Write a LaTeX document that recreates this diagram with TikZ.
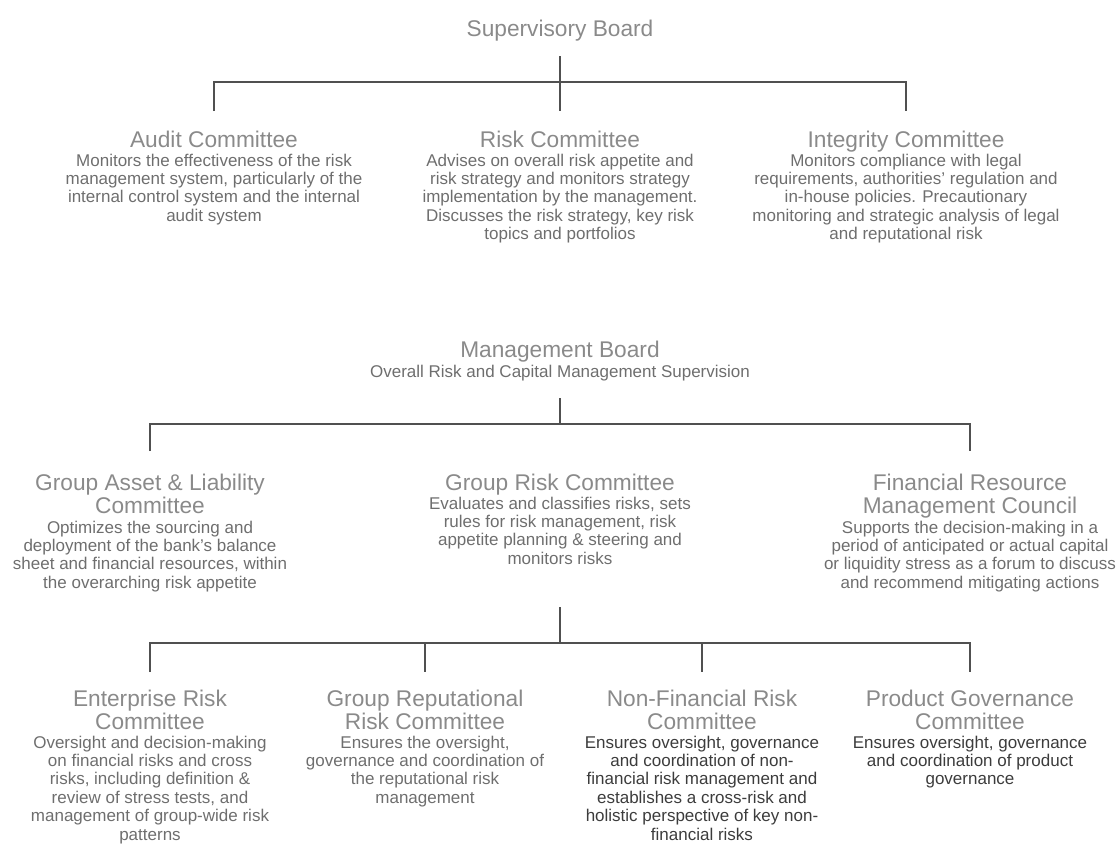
\documentclass[tikz,border=0pt]{standalone}
\usepackage{fontspec}
\setmainfont{Liberation Sans}
\definecolor{titlegray}{HTML}{8A8A8A}
\definecolor{bodygray}{HTML}{6E6E6E}
\definecolor{bodydark}{HTML}{3C3C3C}
\definecolor{linegray}{HTML}{505050}
% note: for multi-line nodes the base anchor sits on the LAST line's baseline
\tikzset{
  ttl/.style={anchor=base, inner sep=0pt, align=center, text=titlegray,
    font=\fontsize{22.7}{23.5}\selectfont},
  bdy/.style={anchor=base, inner sep=0pt, align=center, text=bodygray,
    font=\fontsize{17}{18.4}\selectfont},
  bdydark/.style={bdy, text=bodydark},
  conn/.style={draw=linegray, line width=1.3pt}
}
\begin{document}
\begin{tikzpicture}[x=1pt,y=-1pt]
\useasboundingbox (0,0) rectangle (1120,844);
% ---------- Supervisory tier ----------
\node[ttl] (sb) at (560,36) {Supervisory Board};
\node[ttl] (ac) at (214,147) {Audit Committee};
\node[bdy] (acb) at (214,221.2) {Monitors the effectiveness of the risk\\management system, particularly of the\\internal control system and the internal\\audit system};
\node[ttl] (rc) at (560,147) {Risk Committee};
\node[bdy] (rcb) at (560,239.6) {Advises on overall risk appetite and\\risk strategy and monitors strategy\\implementation by the management.\\Discusses the risk strategy, key risk\\topics and portfolios};
\node[ttl] (ic) at (906,147) {Integrity Committee};
\node[bdy] (icb) at (906,239.6) {Monitors compliance with legal\\requirements, authorities’ regulation and\\in-house policies. Precautionary\\monitoring and strategic analysis of legal\\and reputational risk};
\coordinate (t1top) at (0,56);
\coordinate (t1bar) at (560,82);
\coordinate (t1end) at (0,111);
\draw[conn] (sb |- t1top) -- (rc |- t1end);
\draw[conn] (ac |- t1end) |- (t1bar) -| (ic |- t1end);
% ---------- Management tier ----------
\node[ttl] (mb) at (560,357) {Management Board};
\node[bdy] (mbs) at (560,377) {Overall Risk and Capital Management Supervision};
\node[ttl] (gal) at (150,513.5) {Group Asset \& Liability\\Committee};
\node[bdy] (galb) at (150,588.2) {Optimizes the sourcing and\\deployment of the bank’s balance\\sheet and financial resources, within\\the overarching risk appetite};
\node[ttl] (grc) at (560,490) {Group Risk Committee};
\node[bdy] (grcb) at (560,564.2) {Evaluates and classifies risks, sets\\rules for risk management, risk\\appetite planning \& steering and\\monitors risks};
\node[ttl] (frm) at (970,513.5) {Financial Resource\\Management Council};
\node[bdy] (frmb) at (970,588.2) {Supports the decision-making in a\\period of anticipated or actual capital\\or liquidity stress as a forum to discuss\\and recommend mitigating actions};
\coordinate (t2top) at (0,398);
\coordinate (t2bar) at (560,424);
\coordinate (t2end) at (0,451);
\draw[conn] (mb |- t2top) -- (t2bar);
\draw[conn] (gal |- t2end) |- (t2bar) -| (frm |- t2end);
% ---------- Committee tier ----------
\node[ttl] (erc) at (150,729.5) {Enterprise Risk\\Committee};
\node[bdy] (ercb) at (150,840) {Oversight and decision-making\\on financial risks and cross\\risks, including definition \&\\review of stress tests, and\\management of group-wide risk\\patterns};
\node[ttl] (grr) at (425,729.5) {Group Reputational\\Risk Committee};
\node[bdy] (grrb) at (425,803.2) {Ensures the oversight,\\governance and coordination of\\the reputational risk\\management};
\node[ttl] (nfr) at (702,729.5) {Non-Financial Risk\\Committee};
\node[bdydark] (nfrb) at (702,840) {Ensures oversight, governance\\and coordination of non-\\financial risk management and\\establishes a cross-risk and\\holistic perspective of key non-\\financial risks};
\node[ttl] (pgc) at (970,729.5) {Product Governance\\Committee};
\node[bdydark] (pgcb) at (970,784.8) {Ensures oversight, governance\\and coordination of product\\governance};
\coordinate (t3top) at (0,607);
\coordinate (t3bar) at (560,643);
\coordinate (t3end) at (0,672);
\draw[conn] (grcb |- t3top) -- (t3bar);
\draw[conn] (erc |- t3end) |- (t3bar) -| (pgc |- t3end);
\draw[conn] (grr |- t3bar) -- (grr |- t3end);
\draw[conn] (nfr |- t3bar) -- (nfr |- t3end);
\end{tikzpicture}
\end{document}
